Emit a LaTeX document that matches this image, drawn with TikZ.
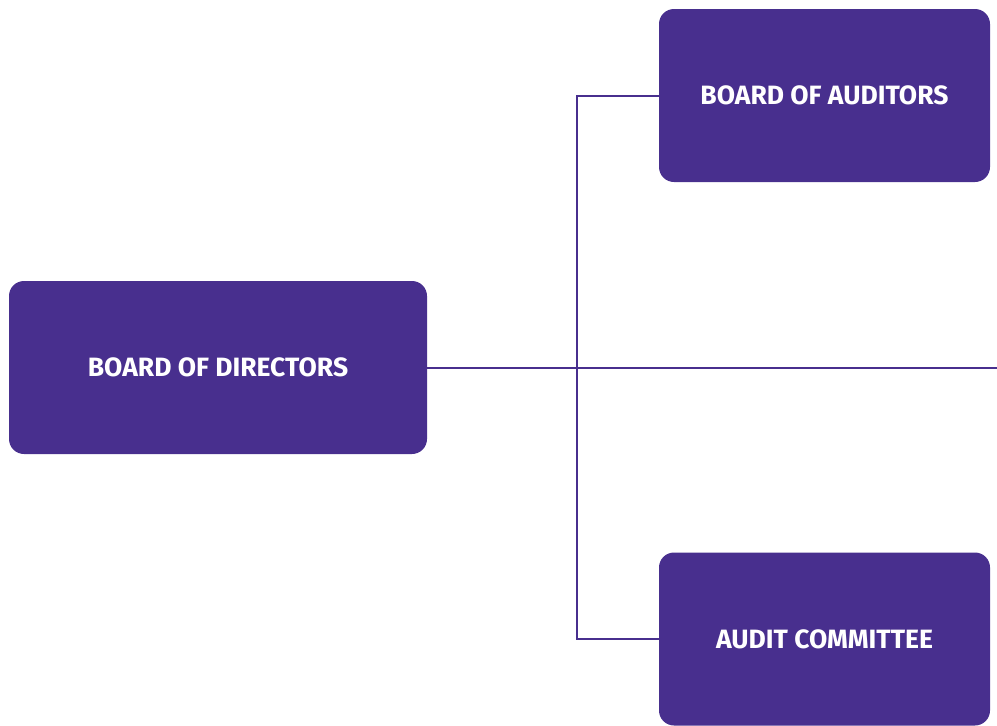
\documentclass[tikz,border=0pt]{standalone}
\usepackage{fontspec}
\setmainfont{Fira Sans}
\definecolor{boardpurple}{HTML}{482F8E}

\begin{document}
\begin{tikzpicture}[x = 1pt, y = -1pt,
	orgbox/.style = {draw = none, fill = boardpurple, rounded corners = 15pt, minimum height = 173pt, text = white, font = \fontsize{26.5}{30}\selectfont\bfseries, inner sep = 0pt},
	orgline/.style = {draw = boardpurple, line width = 2pt}]
	\useasboundingbox (0, 0) rectangle (997, 726);
%%%%%%%%%%%
	\node[orgbox, minimum width = 418pt] (dir) at (218, 367.5) {BOARD OF DIRECTORS};
	\node[orgbox, minimum width = 331pt] (aud) at (824.5, 95.5) {BOARD OF AUDITORS};
	\node[orgbox, minimum width = 331pt] (com) at (824.5, 639) {AUDIT COMMITTEE};
%%%%%%%%%%%
	\coordinate (spine) at (577, 367.5);
	\coordinate (rend) at (997, 367.5);
	\draw[orgline] (dir.east) -- (rend);
	\draw[orgline] (aud.west) -| (spine) |- (com.west);
\end{tikzpicture}
\end{document}
